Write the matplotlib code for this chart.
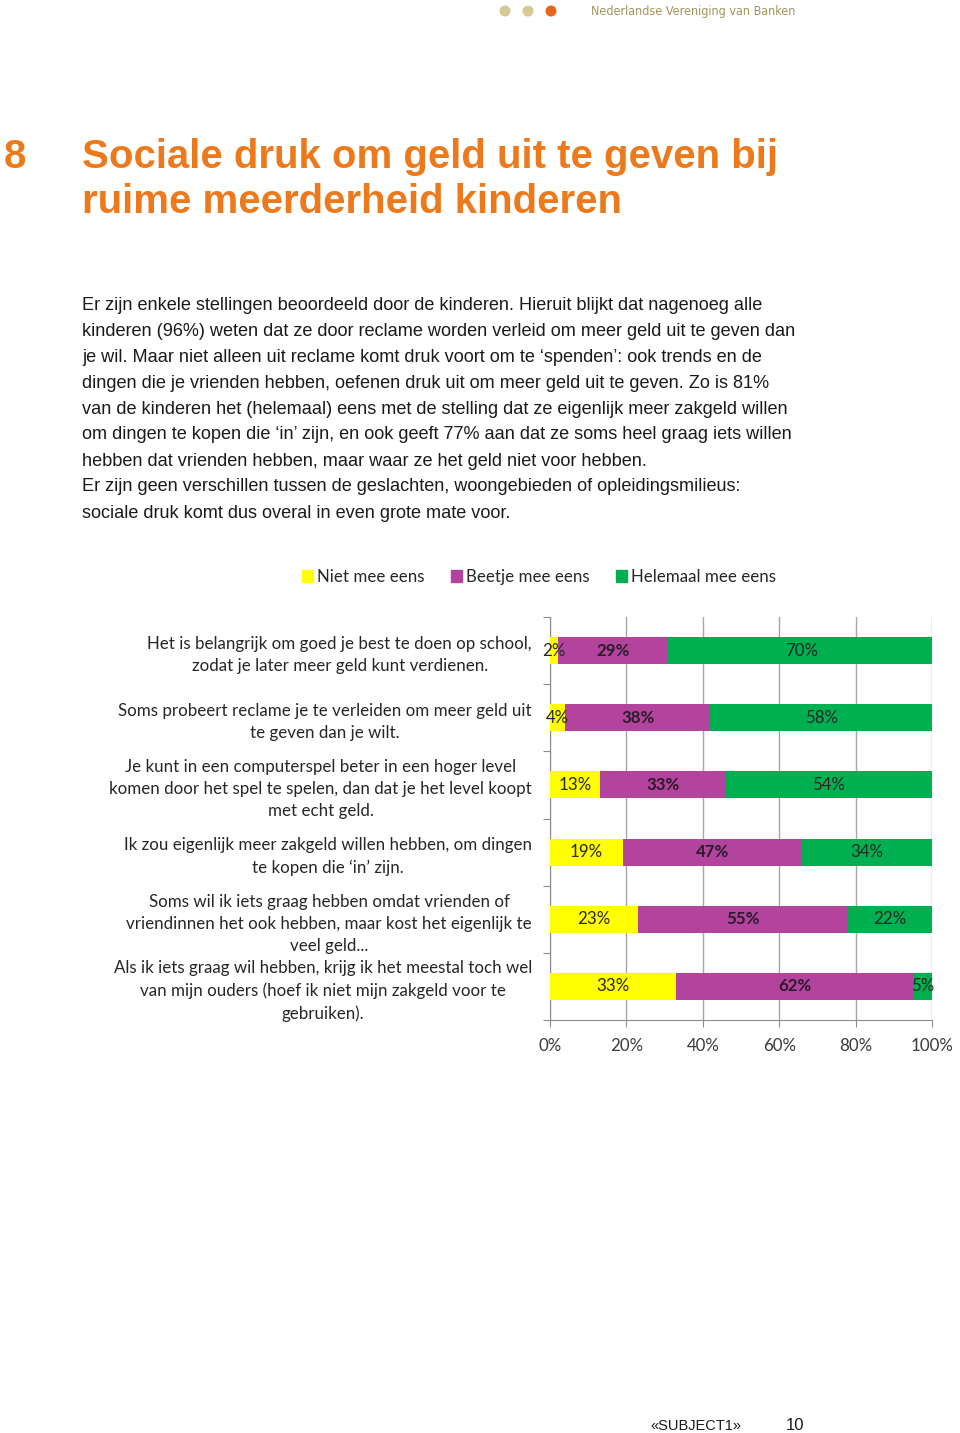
import matplotlib.pyplot as plt
from matplotlib.patches import Ellipse, Rectangle
import numpy as np

# ------------------------
# data
# ------------------------
stellingen = [
    "Het is belangrijk om goed je best te doen op school,\nzodat je later meer geld kunt verdienen.",
    "Soms probeert reclame je te verleiden om meer geld uit\nte geven dan je wilt.",
    "Je kunt in een computerspel beter in een hoger level\nkomen door het spel te spelen, dan dat je het level koopt\nmet echt geld.",
    "Ik zou eigenlijk meer zakgeld willen hebben, om dingen\nte kopen die \u2018in\u2019 zijn.",
    "Soms wil ik iets graag hebben omdat vrienden of\nvriendinnen het ook hebben, maar kost het eigenlijk te\nveel geld...",
    "Als ik iets graag wil hebben, krijg ik het meestal toch wel\nvan mijn ouders (hoef ik niet mijn zakgeld voor te\ngebruiken).",
]
niet_mee_eens = [2, 4, 13, 19, 23, 33]
beetje_mee_eens = [29, 38, 33, 47, 55, 62]
helemaal_mee_eens = [70, 58, 54, 34, 22, 5]
series_names = ["Niet mee eens", "Beetje mee eens", "Helemaal mee eens"]
x_ticks = [0, 20, 40, 60, 80, 100]

W, H = 960, 1433
fig = plt.figure(figsize=(W / 100, H / 100), dpi=100)
fig.patch.set_facecolor('white')

def fx(px):
    return px / W

def fy(py):
    return 1 - py / H

# ------------------------
# header
# ------------------------
for cx, col in zip([505, 528, 551], ['#d6c993', '#d6c993', '#e8641c']):
    fig.patches.append(Ellipse((fx(cx), fy(11)), 11 / W, 11 / H, transform=fig.transFigure,
                               facecolor=col, edgecolor='none'))
fig.text(fx(591), fy(11), "Nederlandse Vereniging van Banken", fontsize=9.0,
         family='DejaVu Sans', fontstretch='condensed', color='#a3935a', va='center')

# ------------------------
# title
# ------------------------
title_col = '#ec7a1c'
fig.text(fx(4), fy(157), "8", fontsize=29, fontweight='bold', color=title_col,
         family='Liberation Sans', va='center')
fig.text(fx(82), fy(157), "Sociale druk om geld uit te geven bij", fontsize=28.9,
         fontweight='bold', color=title_col, family='Liberation Sans', va='center')
fig.text(fx(82), fy(202), "ruime meerderheid kinderen", fontsize=28.9,
         fontweight='bold', color=title_col, family='Liberation Sans', va='center')

# ------------------------
# body text
# ------------------------
body = [
    "Er zijn enkele stellingen beoordeeld door de kinderen. Hieruit blijkt dat nagenoeg alle",
    "kinderen (96%) weten dat ze door reclame worden verleid om meer geld uit te geven dan",
    "je wil. Maar niet alleen uit reclame komt druk voort om te \u2018spenden\u2019: ook trends en de",
    "dingen die je vrienden hebben, oefenen druk uit om meer geld uit te geven. Zo is 81%",
    "van de kinderen het (helemaal) eens met de stelling dat ze eigenlijk meer zakgeld willen",
    "om dingen te kopen die \u2018in\u2019 zijn, en ook geeft 77% aan dat ze soms heel graag iets willen",
    "hebben dat vrienden hebben, maar waar ze het geld niet voor hebben.",
    "Er zijn geen verschillen tussen de geslachten, woongebieden of opleidingsmilieus:",
    "sociale druk komt dus overal in even grote mate voor.",
]
for i, line in enumerate(body):
    fig.text(fx(82), fy(305 + 26 * i), line, fontsize=13.1, family='Liberation Sans',
             color='#1a1a1a', va='center')

# ------------------------
# chart
# ------------------------
colors = ['#ffff00', '#b2449e', '#00b050']
chart_font = 'Lato'
fs = 12.2
ax = fig.add_axes([fx(550), fy(1020), fx(932) - fx(550), fy(617) - fy(1020)])
y = np.arange(len(stellingen))
left = np.zeros(len(stellingen))
for vals, col, name in zip([niet_mee_eens, beetje_mee_eens, helemaal_mee_eens], colors, series_names):
    vals = np.array(vals, dtype=float)
    ax.barh(y, vals, left=left, height=0.4, color=col, label=name, zorder=3)
    for yi, l, v in zip(y, left, vals):
        bold = name == "Beetje mee eens"
        ax.text(l + v / 2, yi, f"{int(v)}%", ha='center', va='center', fontsize=fs,
                family=chart_font, fontweight='bold' if bold else 'normal',
                color='#2a1a2a' if bold else '#262626', zorder=4)
    left += vals

ax.set_xlim(0, 100)
ax.set_ylim(len(stellingen) - 0.5, -0.5)
ax.set_xticks(x_ticks)
ax.set_xticklabels([f"{t}%" for t in x_ticks], family=chart_font, fontsize=fs, color='#3a3a3a')
ax.xaxis.grid(True, color='#a6a6a6', linewidth=1, zorder=0)
ax.set_yticks(np.arange(len(stellingen) + 1) - 0.5)
ax.set_yticklabels([])
ax.set_yticks(y, minor=True)
ax.set_yticklabels(stellingen, minor=True, family=chart_font, fontsize=fs,
                   color='#262626', multialignment='center', linespacing=1.45)
ax.tick_params(axis='y', which='minor', length=0, pad=13)
ax.tick_params(axis='y', which='major', length=5, color='#8c8c8c')
ax.tick_params(axis='x', length=5, color='#8c8c8c', pad=8)
for s in ['top', 'right']:
    ax.spines[s].set_visible(False)
for s in ['left', 'bottom']:
    ax.spines[s].set_color('#8c8c8c')

# legend
handles = [Rectangle((0, 0), 1, 1, color=c) for c in colors]
fig.legend(handles, series_names, loc='center', bbox_to_anchor=(fx(539), fy(577)),
           ncol=3, frameon=False, prop={'family': chart_font, 'size': fs},
           handlelength=0.65, handleheight=0.65, handletextpad=0.25, columnspacing=1.55,
           labelcolor='#262626')

# ------------------------
# footer
# ------------------------
fig.text(fx(650), fy(1426), "\u00abSUBJECT1\u00bb", fontsize=10.5, family='Liberation Sans',
         color='#1a1a1a', va='center')
fig.text(fx(786), fy(1426), "10", fontsize=12, family='Liberation Sans',
         color='#1a1a1a', va='center')

fig.savefig("out.png", dpi=100)
